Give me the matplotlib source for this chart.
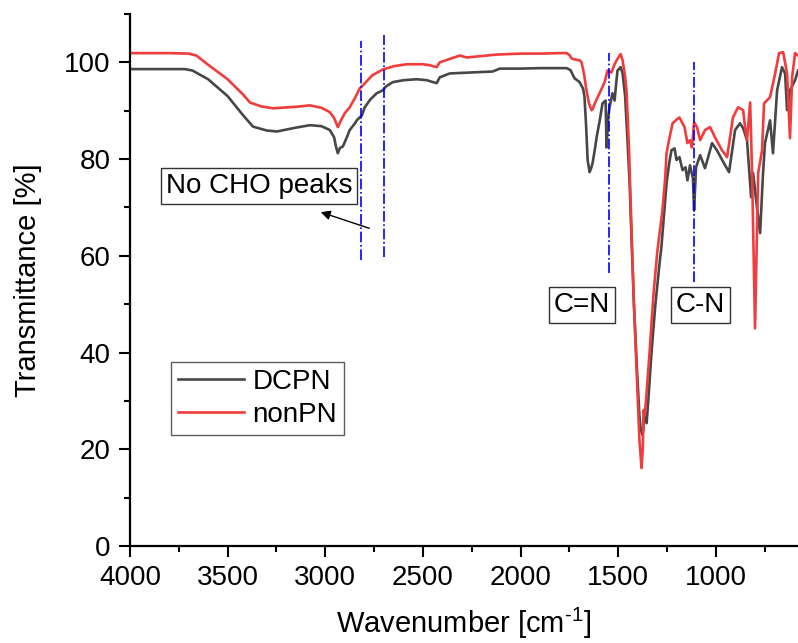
import matplotlib
matplotlib.use("Agg")
import matplotlib.pyplot as plt
from matplotlib.ticker import MultipleLocator

plt.rcParams['font.family'] = ['Liberation Sans', 'DejaVu Sans']
plt.rcParams['mathtext.default'] = 'regular'

# ---------------- data ----------------
dcpn_wn = [4000, 3800, 3720, 3680, 3600, 3500, 3420, 3370, 3300, 3248, 3150, 3079, 3020, 2977,
           2955, 2945, 2936, 2925, 2910, 2895, 2875, 2850, 2839, 2824, 2813, 2798, 2770, 2737,
           2706, 2690, 2655, 2600, 2532, 2480, 2465, 2440, 2430, 2414, 2363, 2250, 2143, 2107,
           2000, 1900, 1800, 1765, 1745, 1739, 1724, 1698, 1680, 1673, 1665, 1657, 1647, 1640,
           1632, 1620, 1611, 1595, 1581, 1565, 1560, 1553, 1545, 1530, 1519, 1510, 1504, 1488,
           1478, 1465, 1453, 1442, 1432, 1420, 1405, 1392, 1385, 1376, 1372, 1368, 1362, 1355,
           1345, 1330, 1310, 1290, 1279, 1263, 1253, 1240, 1228, 1212, 1202, 1187, 1171, 1156,
           1146, 1133, 1118, 1112, 1102, 1081, 1056, 1020, 995, 953, 933, 902, 877, 861, 841,
           820, 810, 790, 774, 759, 749, 723, 708, 687, 662, 646, 636, 621, 595, 580]
dcpn_t = [98.6, 98.6, 98.6, 98.3, 96.5, 93.0, 89.0, 86.7, 85.9, 85.7, 86.5, 87.0, 86.8, 86.0,
          84.5, 82.5, 81.2, 82.3, 82.6, 84.0, 86.0, 87.3, 88.0, 88.6, 89.0, 90.7, 92.3, 93.6,
          94.2, 95.0, 95.9, 96.3, 96.5, 96.3, 96.1, 95.8, 95.7, 96.9, 97.7, 97.9, 98.1, 98.7,
          98.7, 98.8, 98.8, 98.8, 98.4, 97.9, 96.7, 95.9, 94.5, 92.8, 87.0, 79.8, 77.3, 78.0,
          79.1, 82.0, 84.5, 88.0, 91.5, 92.1, 82.4, 88.0, 90.7, 93.6, 92.1, 96.0, 98.3, 99.0,
          97.7, 93.0, 83.9, 75.0, 63.2, 50.0, 37.0, 27.0, 24.0, 22.9, 24.0, 28.1, 26.0, 25.4,
          31.0, 40.0, 50.0, 58.0, 62.0, 70.0, 75.0, 79.0, 81.8, 82.2, 79.8, 80.4, 77.7, 78.3,
          75.6, 78.7, 76.0, 69.4, 78.3, 80.8, 78.1, 83.3, 81.8, 78.7, 77.3, 86.0, 87.4, 86.4,
          83.9, 72.1, 77.1, 70.0, 64.7, 77.1, 83.3, 88.0, 81.2, 94.2, 99.0, 97.7, 90.1, 94.2,
          96.3, 98.3]

nonpn_wn = [4000, 3800, 3700, 3660, 3600, 3500, 3420, 3386, 3330, 3269, 3150, 3079, 3020, 2977,
            2955, 2936, 2920, 2900, 2875, 2850, 2824, 2813, 2760, 2706, 2650, 2583, 2500, 2465,
            2440, 2430, 2414, 2370, 2312, 2276, 2200, 2123, 2000, 1900, 1800, 1765, 1750, 1739,
            1724, 1698, 1688, 1675, 1663, 1650, 1637, 1632, 1615, 1596, 1570, 1555, 1535, 1520,
            1509, 1488, 1478, 1465, 1458, 1445, 1432, 1420, 1405, 1392, 1381, 1375, 1370, 1365,
            1358, 1340, 1320, 1300, 1274, 1260, 1253, 1240, 1222, 1200, 1187, 1161, 1146, 1133,
            1123, 1112, 1097, 1081, 1056, 1030, 1005, 969, 943, 913, 887, 861, 851, 841, 825,
            815, 800, 784, 764, 754, 723, 697, 677, 656, 636, 621, 610, 595, 580]
nonpn_t = [101.9, 101.9, 101.8, 101.4, 99.5, 96.5, 93.3, 91.7, 90.9, 90.5, 90.8, 91.1, 90.6, 89.7,
           88.5, 86.6, 88.0, 89.5, 90.7, 92.5, 94.6, 95.0, 97.3, 98.5, 99.2, 99.6, 99.6, 99.4,
           99.1, 99.0, 100.0, 100.6, 101.4, 101.0, 101.3, 101.6, 101.8, 101.8, 101.9, 101.9, 101.5, 100.8,
           100.6, 100.4, 100.0, 97.5, 94.2, 91.5, 90.1, 90.3, 92.0, 93.6, 95.9, 98.3, 97.9, 99.5,
           100.4, 101.7, 100.4, 97.0, 94.2, 82.0, 64.7, 50.0, 35.0, 22.0, 16.1, 20.0, 28.1, 27.0,
           30.2, 40.0, 52.0, 61.0, 69.4, 76.0, 81.2, 84.0, 87.4, 88.2, 88.6, 86.6, 83.3, 83.9,
           82.4, 87.6, 86.6, 83.9, 86.0, 86.6, 84.5, 81.8, 80.4, 88.6, 90.7, 90.1, 86.6, 83.9, 91.7,
           77.0, 45.0, 77.1, 81.8, 91.5, 92.8, 97.7, 101.9, 102.1, 97.7, 84.3, 96.9, 101.9, 101.4]

series_labels = ["DCPN", "nonPN"]
marker_wn = [2819, 2699, 1547, 1111]
marker_top = [104.5, 105.6, 101.9, 100.0]
marker_bottom = [59.1, 59.7, 56.4, 54.5]

# ---------------- figure ----------------
fig = plt.figure(figsize=(7.98, 6.43), dpi=100)
ax = fig.add_axes([0.1629, 0.1509, 0.8371, 0.8274])

ax.plot(dcpn_wn, dcpn_t, color='#474747', lw=1.9, label=series_labels[0], solid_joinstyle='round')
ax.plot(nonpn_wn, nonpn_t, color='#f03c3c', lw=1.9, label=series_labels[1], solid_joinstyle='round')

for x, t, b in zip(marker_wn, marker_top, marker_bottom):
    ax.plot([x, x], [b, t], color='#0000ff', lw=1.2, ls='-.')

ax.set_xlim(4000, 580)
ax.set_ylim(0, 110)
ax.xaxis.set_major_locator(MultipleLocator(500))
ax.xaxis.set_minor_locator(MultipleLocator(250))
ax.yaxis.set_major_locator(MultipleLocator(20))
ax.yaxis.set_minor_locator(MultipleLocator(10))

for s in ['top', 'right']:
    ax.spines[s].set_visible(False)
for s in ['left', 'bottom']:
    ax.spines[s].set_linewidth(1.6)

ax.tick_params(which='major', direction='out', length=8, width=1.5, labelsize=20, pad=6)
ax.tick_params(which='minor', direction='out', length=4.5, width=1.5)

ax.set_xlabel('Wavenumber [cm$^{\u2010' + '1}$]', fontsize=21, labelpad=10)
ax.set_ylabel('Transmittance [%]', fontsize=21, labelpad=16)

box = dict(boxstyle='square,pad=0.18', fc='white', ec='#333333', lw=1.0)
ax.text(3339, 74.4, 'No CHO peaks', fontsize=20, ha='center', va='center', bbox=box)
ax.text(1686, 49.8, 'C=N', fontsize=20, ha='center', va='center', bbox=box)
ax.text(1081, 49.8, 'C-N', fontsize=20, ha='center', va='center', bbox=box)

ax.annotate('', xy=(3037, 69.2), xytext=(2761, 65.5),
            arrowprops=dict(arrowstyle='-|>', color='black', lw=1.0, mutation_scale=14))

leg = ax.legend(loc='upper left', bbox_to_anchor=(0.061, 0.346), borderaxespad=0,
                fontsize=20, frameon=True, fancybox=False, edgecolor='#333333',
                handlelength=2.4, handletextpad=0.3, labelspacing=0.25, borderpad=0.25)
leg.get_frame().set_linewidth(1.0)

fig.savefig('out.png', dpi=100)
